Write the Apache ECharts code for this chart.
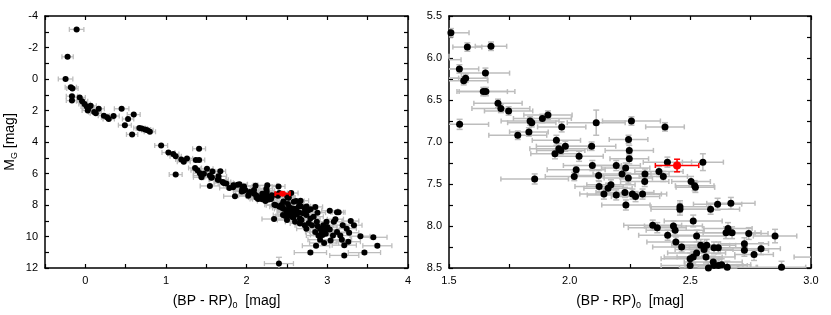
<!DOCTYPE html>
<html>
<head>
<meta charset="utf-8">
<script src="https://cdn.jsdelivr.net/npm/echarts@6/dist/echarts.min.js"></script>
<style>
html,body{margin:0;padding:0;background:#fff;}
#chart{width:831px;height:315px;}
</style>
</head>
<body>
<div id="chart"></div>
<script>
// Colour index (BP-RP)_0 of each star
const bpRp = [
 -0.108,-0.22,-0.245,-0.18,-0.16,-0.166,-0.166,-0.07,-0.04,-0.01,0.017,0.04,0.03,0.066,0.166,0.11,0.13,0.23,0.27,0.29,
 0.35,0.45,0.49,0.53,0.60,0.58,0.67,0.70,0.74,0.77,0.80,0.94,1.03,1.09,1.12,1.12,1.19,1.22,1.26,1.41,
 1.37,1.41,1.36,1.39,1.42,1.44,1.47,1.44,
 1.508,1.576,1.674,1.543,1.651,1.561,1.569,1.642,1.653,1.703,1.715,1.747,1.544,1.785,1.831,1.836,1.843,1.887,1.910,1.967,
 1.945,1.955,1.963,1.982,1.939,2.039,2.091,2.110,2.256,2.395,2.244,2.247,2.094,2.027,2.019,1.855,2.120,2.122,2.142,2.159,
 2.171,2.193,2.193,2.217,2.232,2.243,2.229,2.260,2.273,2.233,2.247,2.405,2.552,2.370,2.388,2.312,2.311,2.302,2.503,2.518,
 2.521,2.457,2.457,2.584,2.613,2.668,2.512,2.344,2.363,2.430,2.437,2.406,2.440,2.464,2.526,2.648,2.656,2.673,2.742,2.851,
 2.724,2.724,2.793,2.764,2.543,2.568,2.557,2.526,2.565,2.598,2.616,2.512,2.499,2.499,2.595,2.598,2.616,2.630,2.653,2.575,2.878,
 2.40,2.34,2.79,2.86,2.96,3.21,3.46,3.62,3.57,3.41,3.26,3.21,3.18,3.29,3.33,3.14,3.12,3.03,3.08,3.12,
 3.07,3.03,2.98,2.95,2.91,2.99,2.87,2.83,2.79,2.74,2.70,2.93,2.89,3.04,2.91,3.19,3.24,3.16,3.27,2.62,
 2.56,2.52,2.50,2.60,2.66,2.72,2.74,2.81,2.85,2.66,2.45,2.97,3.00,2.88,2.94,2.68,2.77,2.58,2.48,3.10
];
// Error of (BP-RP)_0
const bpRpErr = [
 0.09,0.07,0.09,0.07,0.07,0.07,0.07,0.07,0.07,0.07,0.07,0.07,0.07,0.07,0.07,0.07,0.07,0.07,0.07,0.07,
 0.07,0.09,0.08,0.07,0.08,0.07,0.07,0.07,0.07,0.07,0.07,0.08,0.08,0.07,0.07,0.08,0.07,0.08,0.07,0.08,
 0.07,0.07,0.08,0.08,0.08,0.10,0.08,0.10,
 0.075,0.06,0.065,0.08,0.10,0.10,0.09,0.10,0.12,0.10,0.12,0.10,0.12,0.12,0.08,0.12,0.10,0.12,0.10,0.10,
 0.10,0.12,0.10,0.12,0.10,0.10,0.10,0.12,0.12,0.08,0.08,0.10,0.12,0.12,0.12,0.14,0.10,0.10,0.10,0.10,
 0.10,0.12,0.10,0.12,0.10,0.10,0.12,0.12,0.10,0.10,0.08,0.10,0.085,0.10,0.10,0.10,0.10,0.10,0.08,0.08,
 0.08,0.12,0.12,0.12,0.10,0.10,0.12,0.12,0.12,0.12,0.12,0.12,0.12,0.12,0.12,0.12,0.10,0.12,0.08,0.09,
 0.10,0.10,0.08,0.08,0.12,0.12,0.12,0.12,0.12,0.12,0.12,0.12,0.12,0.12,0.12,0.12,0.12,0.12,0.12,0.12,0.10,
 0.18,0.15,0.20,0.17,0.18,0.18,0.20,0.18,0.17,0.12,0.15,0.15,0.12,0.10,0.10,0.08,0.08,0.10,0.10,0.12,
 0.12,0.12,0.15,0.12,0.12,0.12,0.12,0.12,0.12,0.12,0.12,0.15,0.15,0.15,0.15,0.12,0.12,0.12,0.12,0.12,
 0.12,0.12,0.12,0.12,0.12,0.12,0.12,0.12,0.12,0.12,0.12,0.15,0.12,0.12,0.15,0.12,0.12,0.12,0.12,0.10
];
// Absolute magnitude M_G of each star
const mG = [
 -3.15,-1.41,0.00,0.52,0.60,1.09,1.37,1.17,1.41,1.59,1.74,1.85,2.00,1.70,1.89,2.10,2.17,2.33,2.43,2.54,
 2.35,1.89,2.93,2.54,2.26,3.52,3.11,3.15,3.20,3.26,3.35,4.22,4.67,4.76,4.91,6.07,5.11,5.26,5.04,4.43,
 5.15,5.15,5.65,5.80,5.98,6.13,6.02,6.24,
 5.70,5.87,5.86,6.13,6.18,6.27,6.24,6.40,6.40,6.54,6.60,6.63,6.79,6.92,6.88,6.75,6.77,6.72,6.68,6.82,
 6.98,7.08,7.10,7.05,7.14,7.17,7.05,6.77,6.75,6.82,6.97,7.10,7.28,7.33,7.41,7.44,7.40,7.53,7.62,7.55,
 7.51,7.63,7.28,7.38,7.31,7.43,7.60,7.62,7.65,7.75,7.20,7.24,7.24,7.35,7.41,7.38,7.47,7.62,7.47,7.52,
 7.54,7.77,7.80,7.80,7.74,7.73,7.94,7.99,8.02,8.00,8.05,8.11,8.19,8.25,8.12,8.08,8.03,8.08,8.09,8.12,
 8.21,8.29,8.27,8.34,8.23,8.23,8.28,8.32,8.37,8.26,8.26,8.37,8.39,8.47,8.43,8.47,8.47,8.46,8.49,8.50,8.49,
 11.72,8.89,11.02,10.59,10.41,11.20,11.02,10.59,10.05,9.98,10.33,10.55,10.20,9.02,9.28,8.46,8.46,8.37,9.07,9.72,
 9.94,9.55,9.83,9.28,9.50,9.07,9.07,8.74,8.85,8.63,8.52,9.68,9.94,10.26,10.20,9.28,9.50,9.94,9.76,8.59,
 8.74,8.63,8.96,9.07,9.17,9.28,9.50,9.28,9.72,8.85,8.63,9.62,9.40,9.35,9.90,8.95,9.15,8.80,8.70,8.90
];
// Error of M_G
const mGErr = [
 0.05,0.05,0.05,0.05,0.05,0.05,0.05,0.05,0.05,0.05,0.05,0.05,0.05,0.05,0.05,0.05,0.05,0.05,0.05,0.05,
 0.05,0.05,0.05,0.05,0.05,0.05,0.05,0.05,0.05,0.05,0.05,0.05,0.05,0.05,0.05,0.05,0.05,0.05,0.05,0.05,
 0.05,0.05,0.05,0.05,0.05,0.05,0.05,0.05,
 0.05,0.05,0.05,0.05,0.06,0.05,0.05,0.05,0.05,0.05,0.05,0.05,0.06,0.05,0.05,0.05,0.05,0.05,0.05,0.06,
 0.06,0.06,0.05,0.06,0.06,0.06,0.05,0.15,0.05,0.05,0.05,0.06,0.06,0.05,0.05,0.06,0.06,0.06,0.06,0.06,
 0.06,0.06,0.06,0.06,0.06,0.06,0.06,0.06,0.06,0.06,0.06,0.06,0.10,0.06,0.06,0.06,0.06,0.06,0.06,0.06,
 0.06,0.07,0.07,0.06,0.07,0.07,0.07,0.06,0.06,0.06,0.06,0.06,0.06,0.06,0.07,0.07,0.07,0.07,0.07,0.08,
 0.07,0.07,0.07,0.07,0.07,0.07,0.07,0.07,0.07,0.07,0.07,0.07,0.07,0.07,0.07,0.07,0.07,0.07,0.07,0.07,0.07,
 0.40,0.08,0.10,0.10,0.10,0.10,0.10,0.10,0.10,0.08,0.10,0.10,0.08,0.08,0.08,0.06,0.06,0.06,0.08,0.08,
 0.08,0.08,0.08,0.08,0.08,0.08,0.08,0.06,0.06,0.06,0.06,0.08,0.08,0.10,0.10,0.08,0.08,0.08,0.08,0.06,
 0.06,0.06,0.06,0.06,0.06,0.06,0.06,0.06,0.08,0.06,0.06,0.08,0.08,0.08,0.10,0.06,0.06,0.06,0.06,0.06
];
// Highlighted star (red)
const targetBpRp = [2.445];
const targetBpRpErr = [0.09];
const targetMG = [7.28];
const targetMGErr = [0.075];

const FONT = 'Liberation Sans, Arial, sans-serif';
const starRows = bpRp.map((x, i) => [x, mG[i], bpRpErr[i], mGErr[i]]);
const targetRows = targetBpRp.map((x, i) => [x, targetMG[i], targetBpRpErr[i], targetMGErr[i]]);

function makeErrRender(color, lw) {
  return function (params, api) {
    const x = api.value(0), y = api.value(1), ex = api.value(2), ey = api.value(3);
    const cs = params.coordSys;
    const x0 = cs.x, x1 = cs.x + cs.width, y0 = cs.y, y1 = cs.y + cs.height;
    const c = api.coord([x, y]);
    const l = api.coord([x - ex, y]), r = api.coord([x + ex, y]);
    const t = api.coord([x, y - ey]), b = api.coord([x, y + ey]);
    const st = { stroke: color, lineWidth: lw, fill: null };
    const ch = [];
    const inX = v => v >= x0 - 0.5 && v <= x1 + 0.5;
    const inY = v => v >= y0 - 0.5 && v <= y1 + 0.5;
    const capH = 2.5, capW = 3;
    if (inY(c[1])) {
      const a = Math.max(x0, Math.min(l[0], r[0])), e = Math.min(x1, Math.max(l[0], r[0]));
      if (e > a) ch.push({ type: 'line', shape: { x1: a, y1: c[1], x2: e, y2: c[1] }, style: st });
      [l[0], r[0]].forEach(px => {
        if (inX(px)) ch.push({ type: 'line', shape: { x1: px, y1: Math.max(y0, c[1] - capH), x2: px, y2: Math.min(y1, c[1] + capH) }, style: st });
      });
    }
    if (inX(c[0])) {
      const a = Math.max(y0, Math.min(t[1], b[1])), e = Math.min(y1, Math.max(t[1], b[1]));
      if (e - a > 1) {
        ch.push({ type: 'line', shape: { x1: c[0], y1: a, x2: c[0], y2: e }, style: st });
        [t[1], b[1]].forEach(py => {
          if (inY(py)) ch.push({ type: 'line', shape: { x1: Math.max(x0, c[0] - capW), y1: py, x2: Math.min(x1, c[0] + capW), y2: py }, style: st });
        });
      }
    }
    return { type: 'group', children: ch };
  };
}

const axisLine = { show: true, onZero: false, lineStyle: { color: '#000', width: 1.5 } };
const tick = { show: true, inside: true, length: 4, lineStyle: { color: '#000', width: 1.2 } };
const minor = { show: true, splitNumber: 2, length: 4, lineStyle: { color: '#000', width: 1.2 } };
const label = { color: '#000', fontSize: 11, fontFamily: FONT };
const nameRich = {
  t: { fontSize: 14, fontFamily: FONT, color: '#000' },
  s: { fontSize: 9, fontFamily: FONT, color: '#000', padding: [9, 0, 0, 0] }
};
const xName = '{t|(BP - RP)}{s|0}{t|  [mag]}';

function xAx(grid, pos, min, max, interval, showLabel, fmt, useMinor) {
  return {
    type: 'value', gridIndex: grid, position: pos, min, max, interval,
    axisLine, axisTick: tick, minorTick: useMinor ? Object.assign({}, minor, { show: true }) : { show: false },
    splitLine: { show: false }, minorSplitLine: { show: false },
    axisLabel: showLabel ? Object.assign({ margin: 7, formatter: fmt }, label) : { show: false }
  };
}

const leftXFmt = v => (Math.abs(v - Math.round(v)) < 1e-6 ? String(Math.round(v)) : '');
const oneDec = v => v.toFixed(1);

const option = {
  backgroundColor: '#fff',
  animation: false,
  grid: [
    { left: 45, top: 16, width: 363, height: 252 },
    { left: 449, top: 16, width: 362, height: 252 }
  ],
  xAxis: [
    Object.assign(xAx(0, 'bottom', -0.5, 4, 0.5, true, leftXFmt, false), {
      name: xName, nameLocation: 'middle', nameGap: 24, nameTextStyle: { rich: nameRich }
    }),
    xAx(0, 'top', -0.5, 4, 0.5, false, null, false),
    Object.assign(xAx(1, 'bottom', 1.5, 3.0, 0.5, true, oneDec, true), {
      name: xName, nameLocation: 'middle', nameGap: 24, nameTextStyle: { rich: nameRich }
    }),
    xAx(1, 'top', 1.5, 3.0, 0.5, false, null, true)
  ],
  yAxis: [
    Object.assign(xAx(0, 'left', -4, 12, 2, true, v => String(v), true), {
      inverse: true, name: '{t|M}{s|G}{t| [mag]}', nameLocation: 'middle', nameGap: 26,
      nameTextStyle: { rich: nameRich }
    }),
    Object.assign(xAx(0, 'right', -4, 12, 2, false, null, true), { inverse: true }),
    Object.assign(xAx(1, 'left', 5.5, 8.5, 0.5, true, oneDec, true), { inverse: true }),
    Object.assign(xAx(1, 'right', 5.5, 8.5, 0.5, false, null, true), { inverse: true })
  ],
  series: [
    { type: 'custom', xAxisIndex: 0, yAxisIndex: 0, data: starRows, renderItem: makeErrRender('#bdbdbd', 1.3), z: 1, silent: true },
    { type: 'scatter', xAxisIndex: 0, yAxisIndex: 0, data: starRows.map(r => [r[0], r[1]]), symbolSize: 6, itemStyle: { color: '#000', opacity: 1 }, z: 2 },
    { type: 'custom', xAxisIndex: 0, yAxisIndex: 0, data: targetRows, renderItem: makeErrRender('#ff0000', 2), z: 3, silent: true },
    { type: 'scatter', xAxisIndex: 0, yAxisIndex: 0, data: targetRows.map(r => [r[0], r[1]]), symbolSize: 6, itemStyle: { color: '#ff0000', opacity: 1 }, z: 4 },

    { type: 'custom', xAxisIndex: 2, yAxisIndex: 2, data: starRows, renderItem: makeErrRender('#bdbdbd', 1.5), z: 1, silent: true },
    { type: 'scatter', xAxisIndex: 2, yAxisIndex: 2, data: starRows.map(r => [r[0], r[1]]), symbolSize: 7, itemStyle: { color: '#000', opacity: 1 }, z: 2, clip: true },
    { type: 'custom', xAxisIndex: 2, yAxisIndex: 2, data: targetRows, renderItem: makeErrRender('#ff0000', 1.5), z: 3, silent: true },
    { type: 'scatter', xAxisIndex: 2, yAxisIndex: 2, data: targetRows.map(r => [r[0], r[1]]), symbolSize: 8, itemStyle: { color: '#ff0000', opacity: 1 }, z: 4 }
  ]
};

const chart = echarts.init(document.getElementById('chart'), null, { renderer: 'canvas' });
chart.setOption(option);
</script>
</body>
</html>
